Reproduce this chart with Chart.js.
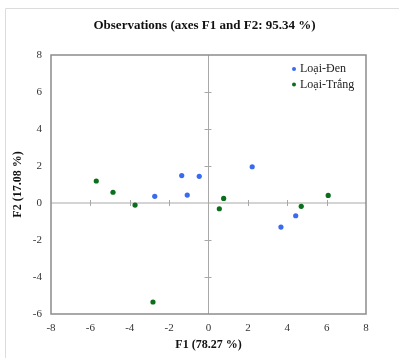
<!DOCTYPE html>
<html>
<head>
<meta charset="utf-8">
<script src="https://cdn.jsdelivr.net/npm/chart.js@4/dist/chart.umd.min.js"></script>
<style>
html,body{margin:0;padding:0;background:#fff;}
#wrap{width:399px;height:358px;position:relative;}
</style>
</head>
<body>
<div id="wrap"><canvas id="c" width="399" height="358"></canvas></div>
<script>
const chartTitle = 'Observations (axes F1 and F2: 95.34 %)';
const xTitle = 'F1 (78.27 %)';
const yTitle = 'F2 (17.08 %)';
const seriesNames = ['Loại-Đen', 'Loại-Trắng'];
const denF1 = [-2.73, -1.36, -1.08, -0.47, 2.22, 3.68, 4.43];
const denF2 = [0.36, 1.48, 0.43, 1.44, 1.96, -1.30, -0.69];
const trangF1 = [-5.70, -4.85, -3.73, -2.82, 0.55, 0.77, 4.71, 6.08];
const trangF2 = [1.19, 0.58, -0.11, -5.35, -0.31, 0.25, -0.18, 0.41];
const xTicks = [-8, -6, -4, -2, 0, 2, 4, 6, 8];
const yTicks = [-6, -4, -2, 0, 2, 4, 6, 8];

const pts = (xs, ys) => xs.map((x, i) => ({x: x, y: ys[i]}));
const serif = '"Liberation Serif", "Times New Roman", serif';

const decor = {
  id: 'decor',
  beforeDatasetsDraw(chart) {
    const {ctx, chartArea: a, scales: {x, y}} = chart;
    ctx.save();
    ctx.strokeStyle = '#dcdcdc';
    ctx.lineWidth = 1;
    ctx.beginPath();
    ctx.moveTo(5.5, 360); ctx.lineTo(5.5, 8.5); ctx.lineTo(400, 8.5);
    ctx.stroke();
    const x0 = x.getPixelForValue(0), y0 = y.getPixelForValue(0);
    ctx.strokeStyle = '#a8a8a8';
    ctx.lineWidth = 1;
    ctx.beginPath();
    ctx.moveTo(a.left, y0); ctx.lineTo(a.right, y0);
    ctx.moveTo(x0, a.top); ctx.lineTo(x0, a.bottom);
    ctx.stroke();
    ctx.beginPath();
    xTicks.forEach(v => {
      if (v === 0 || v === xTicks[0] || v === xTicks[xTicks.length - 1]) return;
      const px = Math.round(x.getPixelForValue(v)) + 0.5;
      ctx.moveTo(px, y0 - 3); ctx.lineTo(px, y0 + 3);
    });
    yTicks.forEach(v => {
      if (v === 0 || v === yTicks[0] || v === yTicks[yTicks.length - 1]) return;
      const py = Math.round(y.getPixelForValue(v)) + 0.5;
      ctx.moveTo(x0 - 4, py); ctx.lineTo(x0 + 3, py);
    });
    ctx.stroke();
    ctx.strokeStyle = '#8c8c8c';
    ctx.lineWidth = 1.5;
    ctx.strokeRect(a.left, a.top, a.right - a.left, a.bottom - a.top);
    ctx.restore();
  },
  afterDraw(chart) {
    const {ctx} = chart;
    ctx.save();
    ctx.fillStyle = '#111';
    ctx.font = 'bold 13px ' + serif;
    ctx.textAlign = 'center';
    ctx.textBaseline = 'middle';
    ctx.fillText(chartTitle, 204.5, 26);
    ctx.textAlign = 'left';
    ctx.font = '12px ' + serif;
    chart.data.datasets.forEach((ds, i) => {
      const yy = 69 + i * 15.5;
      ctx.fillStyle = ds.backgroundColor;
      ctx.beginPath();
      ctx.arc(294, yy, 2, 0, Math.PI * 2);
      ctx.fill();
      ctx.fillStyle = '#222';
      ctx.fillText(ds.label, 300, yy);
    });
    ctx.restore();
  }
};

new Chart(document.getElementById('c'), {
  type: 'scatter',
  data: {
    datasets: [
      {label: seriesNames[0], data: pts(denF1, denF2), backgroundColor: '#3a6af0', borderColor: '#3a6af0', pointRadius: 2.6, pointBorderWidth: 0},
      {label: seriesNames[1], data: pts(trangF1, trangF2), backgroundColor: '#0b6e1c', borderColor: '#0b6e1c', pointRadius: 2.6, pointBorderWidth: 0}
    ]
  },
  options: {
    responsive: false,
    animation: false,
    layout: {padding: {left: 10, right: 33, top: 55, bottom: 0}},
    plugins: {
      legend: {display: false},
      tooltip: {enabled: false},
      title: {display: false}
    },
    scales: {
      x: {
        type: 'linear', min: -8, max: 8,
        afterBuildTicks: s => { s.ticks = xTicks.map(v => ({value: v})); },
        afterFit: s => { s.height = 44; },
        grid: {display: false, drawTicks: false},
        border: {display: false},
        ticks: {color: '#333', font: {family: serif, size: 11}, padding: 8, maxRotation: 0, autoSkip: false},
        title: {display: true, text: xTitle, color: '#111', font: {family: serif, size: 12, weight: 'bold'}, padding: {top: 0, bottom: 6}}
      },
      y: {
        type: 'linear', min: -6, max: 8,
        afterBuildTicks: s => { s.ticks = yTicks.map(v => ({value: v})); },
        afterFit: s => { s.width = 41; },
        grid: {display: false, drawTicks: false},
        border: {display: false},
        ticks: {color: '#333', font: {family: serif, size: 11}, padding: 9, autoSkip: false},
        title: {display: true, text: yTitle, color: '#111', font: {family: serif, size: 12, weight: 'bold'}, padding: {top: 1, bottom: 0}}
      }
    }
  },
  plugins: [decor]
});
</script>
</body>
</html>
